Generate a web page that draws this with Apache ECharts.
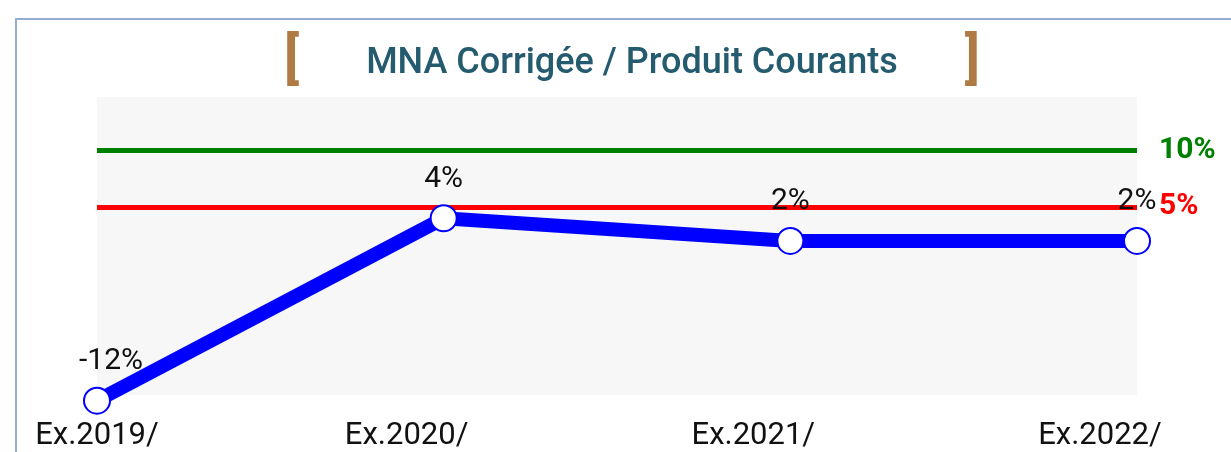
<!DOCTYPE html>
<html>
<head>
<meta charset="utf-8">
<script src="https://cdn.jsdelivr.net/npm/echarts@6/dist/echarts.min.js"></script>
<style>
  html, body { margin: 0; padding: 0; background: #fff; overflow: hidden; }
  #chart { width: 1231px; height: 452px; }
  .frame {
    position: absolute;
    left: 15px;
    top: 18px;
    width: 1400px;
    height: 600px;
    border: 2px solid #93acd0;
    pointer-events: none;
  }
</style>
</head>
<body>
<div id="chart"></div>
<div class="frame"></div>
<script>
// exercices
const categories = ["Ex.2019/", "Ex.2020/", "Ex.2021/", "Ex.2022/"];
// ratio MNA corrigée / produits courants (%)
const ratioValues = [-12.1, 4, 2, 2];
// seuils
const thresholdHigh = 10;
const thresholdLow = 5;

const chart = echarts.init(document.getElementById("chart"));

chart.setOption({
  animation: false,
  title: {
    text: "{br|[}{t|MNA Corrigée / Produit Courants}{br|]}",
    left: 627,
    textAlign: "center",
    top: 31,
    textStyle: {
      rich: {
        br: {
          fontFamily: "Roboto",
          fontSize: 55,
          fontWeight: "bold",
          color: "#b07a45",
        },
        t: {
          fontFamily: "Roboto",
          fontSize: 36,
          fontWeight: 500,
          color: "#245b6e",
          padding: [0, 67, 0, 67],
        },
      },
    },
  },
  grid: {
    left: 97,
    right: 94,
    top: 97,
    bottom: 55,
    show: true,
    backgroundColor: "#f7f7f7",
    borderWidth: 0,
  },
  xAxis: {
    type: "category",
    data: categories,
    boundaryGap: false,
    axisLine: { show: false },
    axisTick: { show: false },
    axisLabel: {
      margin: 26,
      formatter: (v, i) => (i === 0 ? "{a|" + v + "}" : "{b|" + v + "}"),
      rich: {
        a: { fontFamily: "Roboto", fontSize: 31, color: "#111" },
        b: { fontFamily: "Roboto", fontSize: 31, color: "#111", padding: [0, 74, 0, 0] },
      },
    },
  },
  yAxis: {
    type: "value",
    min: -11.6,
    max: 14.7,
    show: false,
    splitLine: { show: false },
  },
  series: [
    {
      type: "line",
      clip: false,
      data: ratioValues.map((v, i) =>
        i === 0 ? { value: v, label: { offset: [14, 0] } } : v
      ),
      lineStyle: { color: "#0000ff", width: 14 },
      itemStyle: { color: "#ffffff", borderColor: "#0000ff", borderWidth: 2 },
      symbol: "circle",
      symbolSize: 26,
      showAllSymbol: true,
      z: 3,
      label: {
        show: true,
        position: "top",
        distance: 10,
        fontFamily: "Roboto",
        fontSize: 30,
        color: "#111",
        formatter: (p) => Math.round(p.value) + "%",
      },
      markLine: {
        silent: true,
        symbol: "none",
        z: 2,
        data: [
          {
            yAxis: thresholdHigh,
            lineStyle: { color: "#008000", width: 5, type: "solid" },
            label: { color: "#008000" },
          },
          {
            yAxis: thresholdLow,
            lineStyle: { color: "#ff0000", width: 5, type: "solid" },
            label: { color: "#ff0000" },
          },
        ],
        label: {
          position: "end",
          distance: 22,
          fontFamily: "Roboto",
          fontSize: 30,
          fontWeight: "bold",
          formatter: (p) => p.value + "%",
        },
      },
    },
  ],
});
</script>
</body>
</html>
